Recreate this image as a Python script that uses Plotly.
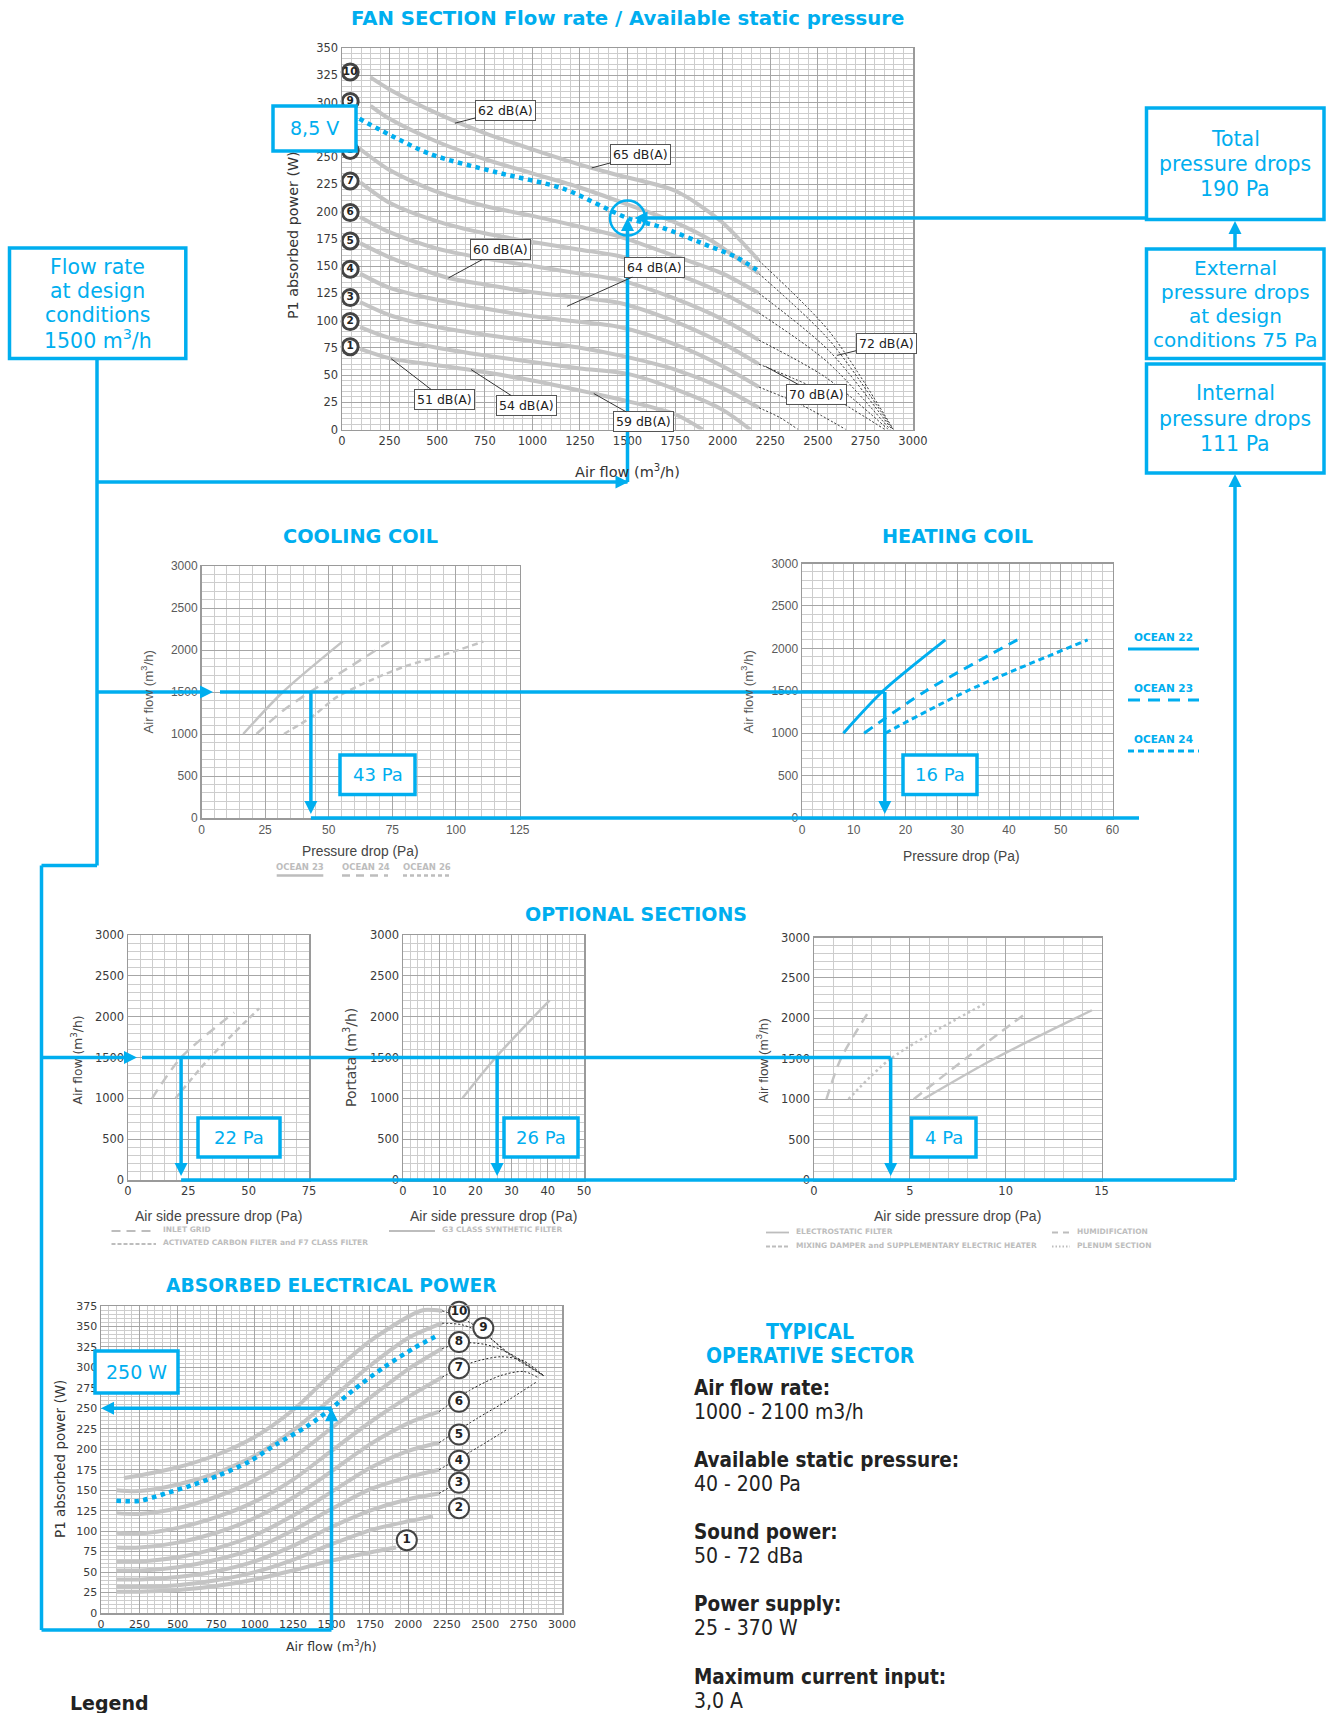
import plotly.graph_objects as go

W, H = 1330, 1713
BLUE = "#00AEEF"
CURVE = "#c4c4c4"
INK = "#333333"
GMAJ = "#a6a6a6"
GMIN = "#cdcdcd"
BORDER = "#9a9a9a"
FONT = "DejaVu Sans"
HELV = "Liberation Sans"
COND = "DejaVu Sans Condensed"

# ---------------------------------------------------------------- data
# FAN SECTION: available static pressure (Pa) vs air flow (m3/h), speeds 1..10
fan_speed_labels = ["1", "2", "3", "4", "5", "6", "7", "8", "9", "10"]
fan_speed_label_pa = [76, 99, 121, 147, 173, 199, 228, 256, 301, 328]
fan_speed_label_flow = [43] * 10
fan_flow = [
    [95, 258, 500, 678, 1000, 1323, 1500, 1750, 1894],
    [95, 250, 500, 750, 1000, 1250, 1500, 1750, 2000, 2145],
    [95, 250, 500, 750, 1000, 1250, 1459, 1750, 2000, 2190],
    [95, 250, 500, 750, 1000, 1182, 1459, 1750, 2000, 2190],
    [95, 250, 559, 750, 1000, 1250, 1459, 1750, 2000, 2190],
    [95, 250, 500, 750, 1000, 1250, 1459, 1750, 2000, 2190],
    [95, 250, 500, 750, 1000, 1250, 1459, 1750, 2000, 2190],
    [90, 250, 500, 750, 1000, 1250, 1459, 1750, 2000, 2190],
    [150, 250, 500, 750, 1000, 1250, 1459, 1750, 1933, 2190],
    [150, 250, 500, 750, 1000, 1250, 1459, 1750, 1985, 2190],
]
fan_pressure = [
    [74, 65, 59, 54.5, 45, 33, 26, 14, 0],
    [94, 84, 75, 68, 62, 56, 51, 37, 18, 0],
    [117, 105, 94, 87, 81, 75, 68, 55, 38, 20],
    [143, 130, 119, 111, 104, 100, 94, 78, 58, 39],
    [171, 158, 139, 133, 126, 121, 116, 99, 79, 60],
    [195, 181, 166, 157, 150, 143, 137, 120, 101, 82],
    [227, 208, 191, 180, 172, 165, 159, 143, 125, 107],
    [258, 238, 218, 205, 196, 186, 177, 159, 143, 125],
    [297, 285, 264, 248, 235, 222, 209, 190, 174, 143],
    [323, 312, 290, 272, 257, 243, 233, 219, 192, 155],
]
# dotted extensions (speed 3..10) down to zero pressure
fan_ext_flow = [
    [2190, 2300, 2396],
    [2190, 2420, 2647],
    [2190, 2520, 2852],
    [2190, 2540, 2870],
    [2190, 2550, 2880],
    [2190, 2560, 2890],
    [2190, 2560, 2895],
    [2190, 2560, 2897],
]
fan_ext_pressure = [
    [20, 11, 0],
    [39, 22, 0],
    [60, 35, 0],
    [82, 48, 0],
    [107, 62, 0],
    [125, 72, 0],
    [143, 82, 0],
    [155, 90, 0],
]
fan_85v_flow = [92, 460, 811, 1162, 1500, 1670, 1933, 2073, 2200]
fan_85v_pressure = [285, 253, 236, 221, 194, 186, 168, 158, 144]
fan_db_labels = ["62 dB(A)", "65 dB(A)", "60 dB(A)", "64 dB(A)", "72 dB(A)",
                 "70 dB(A)", "51 dB(A)", "54 dB(A)", "59 dB(A)"]
fan_db_point_flow = [593, 1312, 559, 1182, 2601, 2224, 258, 678, 1323]
fan_db_point_pa = [281, 240, 139, 113, 68, 58, 65, 55, 33]
fan_db_box_flow = [860, 1570, 833, 1643, 2859, 2494, 536, 970, 1586]
fan_db_box_pa = [293, 252, 165, 149, 79, 32, 27.6, 22, 7]

# COOLING COIL: air flow (m3/h) vs pressure drop (Pa)
cool_ocean23_pa = [16.4, 32, 55.4]
cool_ocean23_flow = [1000, 1500, 2100]
cool_ocean24_pa = [21.6, 32, 42.6, 54.4, 73.8]
cool_ocean24_flow = [1000, 1277, 1500, 1724, 2100]
cool_ocean26_pa = [32.4, 44, 53, 67.6, 80.7, 93.8, 110.8]
cool_ocean26_flow = [1000, 1218, 1436, 1654, 1812, 1930, 2100]

# HEATING COIL
heat_ocean22_pa = [8, 15.7, 27.7]
heat_ocean22_flow = [1000, 1500, 2100]
heat_ocean23_pa = [12, 24, 41.6]
heat_ocean23_flow = [1000, 1500, 2100]
heat_ocean24_pa = [16.1, 32, 55.2]
heat_ocean24_flow = [1000, 1500, 2100]

# OPTIONAL SECTIONS
opt_inlet_pa = [10, 22, 44]
opt_inlet_flow = [1000, 1500, 2050]
opt_carbon_pa = [19.7, 34, 54.3]
opt_carbon_flow = [1000, 1500, 2100]
opt_g3_pa = [16.4, 25.6, 40.5]
opt_g3_flow = [1000, 1500, 2200]
opt_humid_pa = [0.65, 1.4, 2.9]
opt_humid_flow = [1000, 1500, 2100]
opt_plenum_pa = [1.8, 4.0, 8.9]
opt_plenum_flow = [1000, 1500, 2180]
opt_mixing_pa = [5.2, 7.9, 11.1]
opt_mixing_flow = [1000, 1500, 2070]
opt_electro_pa = [5.7, 9.4, 14.5]
opt_electro_flow = [1000, 1500, 2100]

# ABSORBED ELECTRICAL POWER: P1 (W) vs air flow (m3/h), speeds 1..10
pow_flow = [
    [100, 250, 500, 750, 1000, 1250, 1500, 1750, 1920],
    [100, 250, 500, 750, 1000, 1250, 1500, 1750, 2000, 2160],
    [100, 250, 500, 750, 1000, 1250, 1500, 1750, 2000, 2200],
    [100, 250, 500, 750, 1000, 1250, 1500, 1750, 2000, 2200],
    [100, 250, 500, 750, 1000, 1250, 1500, 1750, 2000, 2200],
    [100, 250, 500, 750, 1000, 1250, 1500, 1750, 2000, 2200],
    [100, 250, 500, 750, 1000, 1250, 1500, 1750, 2000, 2220],
    [100, 250, 500, 750, 1000, 1250, 1500, 1750, 2000, 2220],
    [100, 250, 500, 750, 1000, 1250, 1500, 1750, 2000, 2220],
    [150, 250, 500, 750, 1000, 1250, 1500, 1750, 2000, 2100, 2220],
]
pow_watt = [
    [26, 26, 28, 33, 41, 52, 64, 74, 80],
    [32, 32, 34, 40, 50, 65, 84, 101, 112, 118],
    [41, 41, 44, 51, 63, 82, 105, 125, 139, 146],
    [52, 52, 56, 65, 79, 101, 127, 151, 166, 175],
    [63, 63, 68, 79, 95, 119, 148, 177, 198, 208],
    [80, 80, 86, 98, 116, 141, 173, 206, 232, 246],
    [98, 97, 104, 117, 136, 163, 198, 233, 264, 288],
    [122, 121, 128, 142, 162, 190, 226, 263, 298, 323],
    [150, 149, 157, 171, 192, 223, 262, 302, 336, 354],
    [165, 168, 178, 193, 215, 248, 292, 332, 362, 370, 369],
]
pow_ext_flow = [
    [2200, 2300],
    [2200, 2450, 2640],
    [2200, 2450, 2650, 2840],
    [2200, 2400, 2600, 2750, 2840],
    [2220, 2400, 2600, 2750, 2880],
    [2220, 2350, 2500, 2650, 2880],
    [2220, 2350, 2500, 2650, 2880],
    [2220, 2330, 2480, 2640, 2880],
]
pow_ext_watt = [
    [146, 157],
    [175, 202, 224],
    [208, 238, 260, 283],
    [246, 272, 290, 295, 288],
    [288, 305, 313, 308, 290],
    [323, 330, 328, 318, 290],
    [354, 352, 340, 318, 290],
    [369, 362, 345, 318, 290],
]
pow_85v_flow = [100, 250, 420, 590, 765, 965, 1140, 1340, 1500, 1640, 1840, 2040, 2200]
pow_85v_watt = [137, 137, 146, 156, 168, 185, 206, 228, 250, 272, 300, 324, 340]
pow_label_flow = [1990, 2330, 2330, 2330, 2330, 2330, 2330, 2330, 2488, 2330]
pow_label_watt = [89, 128, 159, 186, 218, 258, 299, 331, 348, 368]

# design selection
design_flow = 1500
fan_design_point_pa = 194     # where the 8,5 V curve meets 1500 m3/h (190 Pa total)
cool_drop = 43
heat_drop = 16
optA_drop = 22
optB_drop = 26
optC_drop = 4
design_power = 250

# ---------------------------------------------------------------- panels (pixel boxes in window coords)
PANELS = {
    "fan":  dict(sx="", L=342, R=913, T=48, B=429.5, xr=(0, 3000), yr=(0, 350), xd=250, xm=50, yd=25, ym=5, tf=(FONT, 11.5, "#3a3a3a")),
    "cool": dict(sx="2", L=201.5, R=519.5, T=566, B=818, xr=(0, 125), yr=(0, 3000), xd=25, xm=5, yd=500, ym=100, tf=(HELV, 12, "#5a5a5a")),
    "heat": dict(sx="3", L=802, R=1112.5, T=563.5, B=818, xr=(0, 60), yr=(0, 3000), xd=10, xm=2, yd=500, ym=100, tf=(HELV, 12, "#5a5a5a")),
    "optA": dict(sx="4", L=128, R=309, T=935, B=1180, xr=(0, 75), yr=(0, 3000), xd=25, xm=5, yd=500, ym=100, tf=(FONT, 11.5, "#3a3a3a")),
    "optB": dict(sx="5", L=403, R=584, T=935, B=1180, xr=(0, 50), yr=(0, 3000), xd=10, xm=2, yd=500, ym=100, tf=(FONT, 11.5, "#3a3a3a")),
    "optC": dict(sx="6", L=814, R=1101.5, T=937.5, B=1180, xr=(0, 15), yr=(0, 3000), xd=5, xm=1, yd=500, ym=100, tf=(FONT, 11.5, "#3a3a3a")),
    "pow":  dict(sx="7", L=101, R=562, T=1306, B=1613, xr=(0, 3000), yr=(0, 375), xd=250, xm=50, yd=25, ym=5, tf=(FONT, 11, "#3a3a3a")),
}


def px(x):
    return x / W


def py(y):
    return 1 - y / H


def P(name, xv, yv):
    p = PANELS[name]
    X = p["L"] + (xv - p["xr"][0]) / (p["xr"][1] - p["xr"][0]) * (p["R"] - p["L"])
    Y = p["B"] - (yv - p["yr"][0]) / (p["yr"][1] - p["yr"][0]) * (p["B"] - p["T"])
    return X, Y


fig = go.Figure()
layout = dict(width=W, height=H, margin=dict(l=0, r=0, t=0, b=0, pad=0, autoexpand=False),
              paper_bgcolor="white", plot_bgcolor="white", showlegend=False,
              font=dict(family=FONT, color=INK))

for name, p in PANELS.items():
    s = p["sx"]
    fam, size, col = p["tf"]
    common = dict(showgrid=True, gridcolor=GMAJ, gridwidth=1, showline=True, linecolor=BORDER,
                  linewidth=1.5, mirror=True, ticks="", zeroline=False, fixedrange=True, automargin=False,
                  tickfont=dict(family=fam, size=size, color=col), tick0=0)
    layout["xaxis" + s] = dict(common, domain=[px(p["L"]), px(p["R"])], range=list(p["xr"]),
                               anchor="y" + s, dtick=p["xd"],
                               minor=dict(dtick=p["xm"], tick0=0, showgrid=True, gridcolor=GMIN, gridwidth=1))
    layout["yaxis" + s] = dict(common, domain=[py(p["B"]), py(p["T"])], range=list(p["yr"]),
                               anchor="x" + s, dtick=p["yd"],
                               minor=dict(dtick=p["ym"], tick0=0, showgrid=True, gridcolor=GMIN, gridwidth=1))


def ax(name):
    s = PANELS[name]["sx"]
    return dict(xaxis="x" + s, yaxis="y" + s)


def line(name, x, y, color=CURVE, width=4, dash=None, shape="spline"):
    fig.add_trace(go.Scatter(x=x, y=y, mode="lines", line=dict(color=color, width=width, dash=dash, shape=shape, smoothing=0.8),
                             hoverinfo="skip", **ax(name)))


# ---- fan section curves
for fx_, fp in zip(fan_flow, fan_pressure):
    line("fan", fx_, fp, width=4)
for ex, ep in zip(fan_ext_flow, fan_ext_pressure):
    line("fan", ex, ep, color="#222222", width=1, dash="2px,2px")
line("fan", fan_85v_flow, fan_85v_pressure, color=BLUE, width=4.5, dash="dot")
fig.add_trace(go.Scatter(x=fan_speed_label_flow, y=fan_speed_label_pa, mode="markers+text", text=["<b>%s</b>" % t for t in fan_speed_labels],
                         textposition="middle center", textfont=dict(family=FONT, size=10.5, color="#222"),
                         marker=dict(size=16, color="white", line=dict(color="#444", width=3)), cliponaxis=False,
                         hoverinfo="skip", **ax("fan")))

# ---- cooling coil
line("cool", cool_ocean23_pa, cool_ocean23_flow, width=2.5)
line("cool", cool_ocean24_pa, cool_ocean24_flow, width=2.5, dash="10px,7px")
line("cool", cool_ocean26_pa, cool_ocean26_flow, width=2.5, dash="6px,4px")
# ---- heating coil
line("heat", heat_ocean22_pa, heat_ocean22_flow, color=BLUE, width=3)
line("heat", heat_ocean23_pa, heat_ocean23_flow, color=BLUE, width=3, dash="10px,7px")
line("heat", heat_ocean24_pa, heat_ocean24_flow, color=BLUE, width=3, dash="6px,4px")
# ---- optional sections
line("optA", opt_inlet_pa, opt_inlet_flow, width=2.5, dash="10px,7px")
line("optA", opt_carbon_pa, opt_carbon_flow, width=2.5, dash="6px,4px")
line("optB", opt_g3_pa, opt_g3_flow, width=2.5)
line("optC", opt_humid_pa, opt_humid_flow, width=2.5, dash="10px,7px")
line("optC", opt_plenum_pa, opt_plenum_flow, width=2.5, dash="2.5px,3px")
line("optC", opt_mixing_pa, opt_mixing_flow, width=2.5, dash="10px,6px")
line("optC", opt_electro_pa, opt_electro_flow, width=2.5)

# ---- absorbed power
for fx_, fw in zip(pow_flow, pow_watt):
    line("pow", fx_, fw, width=4)
for ex, ew in zip(pow_ext_flow, pow_ext_watt):
    line("pow", ex, ew, color="#222222", width=1, dash="2px,2px")
line("pow", pow_85v_flow, pow_85v_watt, color=BLUE, width=4.5, dash="dot")
fig.add_trace(go.Scatter(x=pow_label_flow, y=pow_label_watt, mode="markers+text", text=["<b>%s</b>" % t for t in fan_speed_labels],
                         textposition="middle center", textfont=dict(family=FONT, size=12, color="#222"),
                         marker=dict(size=20, color="white", line=dict(color="#444", width=2)), cliponaxis=False,
                         hoverinfo="skip", **ax("pow")))

# ---------------------------------------------------------------- annotations / shapes
ann = []
shapes = []


def txt(x, y, s, size, color=INK, family=FONT, xanchor="center", yanchor="middle", angle=0):
    ann.append(dict(x=px(x), y=py(y), xref="paper", yref="paper", text=s, showarrow=False, xanchor=xanchor,
                    yanchor=yanchor, textangle=angle, font=dict(family=family, size=size, color=color)))


def seg(x0, y0, x1, y1, color=BLUE, w=3.5, dash=None):
    shapes.append(dict(type="line", xref="paper", yref="paper", x0=px(x0), y0=py(y0), x1=px(x1), y1=py(y1),
                       line=dict(color=color, width=w, dash=dash)))


def head(x, y, d, L=13, Wd=13):
    if d == "right":
        pts = [(x, y), (x - L, y - Wd / 2), (x - L, y + Wd / 2)]
    elif d == "left":
        pts = [(x, y), (x + L, y - Wd / 2), (x + L, y + Wd / 2)]
    elif d == "up":
        pts = [(x, y), (x - Wd / 2, y + L), (x + Wd / 2, y + L)]
    else:
        pts = [(x, y), (x - Wd / 2, y - L), (x + Wd / 2, y - L)]
    path = "M " + " L ".join("%f,%f" % (px(a), py(b)) for a, b in pts) + " Z"
    shapes.append(dict(type="path", xref="paper", yref="paper", path=path, fillcolor=BLUE, line=dict(width=0)))


def box(x0, y0, x1, y1, lines, size=19, step=24):
    shapes.append(dict(type="rect", xref="paper", yref="paper", x0=px(x0), y0=py(y0), x1=px(x1), y1=py(y1),
                       fillcolor="white", line=dict(color=BLUE, width=3.5)))
    n = len(lines)
    cy = (y0 + y1) / 2
    for i, s in enumerate(lines):
        txt((x0 + x1) / 2, cy + (i - (n - 1) / 2) * step, s, size, color=BLUE)


# titles
txt(627, 19, "<b>FAN SECTION Flow rate / Available static pressure</b>", 19.7, BLUE)
txt(360.5, 537, "<b>COOLING COIL</b>", 19.3, BLUE)
txt(957, 537, "<b>HEATING COIL</b>", 19.2, BLUE)
txt(636, 914, "<b>OPTIONAL SECTIONS</b>", 19, BLUE)
txt(331, 1285, "<b>ABSORBED ELECTRICAL POWER</b>", 18.7, BLUE)

# axis titles
txt(293, 235, "P1 absorbed power (W)", 14.3, INK, angle=-90)
txt(627, 471, "Air flow (m<sup>3</sup>/h)", 14.5, INK)
txt(147.5, 692, "Air flow (m<sup>3</sup>/h)", 13.3, "#555", HELV, angle=-90)
txt(360, 851, "Pressure drop (Pa)", 13.8, "#444", HELV)
txt(747.5, 691, "Air flow (m<sup>3</sup>/h)", 13.3, "#555", HELV, angle=-90)
txt(962, 856, "Pressure drop (Pa)", 13.8, "#444", HELV)
txt(76.5, 1060, "Air flow (m<sup>3</sup>/h)", 12.3, "#444", FONT, angle=-90)
txt(218.6, 1216, "Air side pressure drop (Pa)", 14, "#444", HELV)
txt(350, 1058, "Portata (m<sup>3</sup>/h)", 14, "#444", FONT, angle=-90)
txt(493, 1216, "Air side pressure drop (Pa)", 14, "#444", HELV)
txt(762, 1060, "Air flow (m<sup>3</sup>/h)", 13.5, "#444", HELV, angle=-90)
txt(957, 1216, "Air side pressure drop (Pa)", 14, "#444", HELV)
txt(60, 1459, "P1 absorbed power (W)", 13.5, INK, angle=-90)
txt(331, 1646, "Air flow (m<sup>3</sup>/h)", 12.5, INK)

# small legends
LG = "#bdbdbd"
for cx, lab, x0, x1, dsh in [(300, "OCEAN 23", 276.7, 323.3, None), (366, "OCEAN 24", 342, 388, "8px,6px"),
                             (427, "OCEAN 26", 403, 451.7, "4px,3px")]:
    txt(cx, 867, "<b>%s</b>" % lab, 8.5, LG)
    seg(x0, 875.5, x1, 875.5, LG, 2.5, dsh)
for cy, lab, dsh in [(637, "OCEAN 22", None), (688, "OCEAN 23", "12px,8px"), (739, "OCEAN 24", "6px,4px")]:
    txt(1163, cy, "<b>%s</b>" % lab, 10.5, BLUE)
    seg(1128, cy + 12, 1199, cy + 12, BLUE, 3, dsh)
for (x0, x1, y, lab, dsh) in [(111.5, 156, 1231, "INLET GRID", "9px,6px"),
                              (111.5, 156, 1244, "ACTIVATED CARBON FILTER and F7 CLASS FILTER", "4px,2px"),
                              (389, 435, 1231, "G3 CLASS SYNTHETIC FILTER", None),
                              (766, 789, 1232.5, "ELECTROSTATIC FILTER", None),
                              (766, 789, 1246.5, "MIXING DAMPER and SUPPLEMENTARY ELECTRIC HEATER", "4px,2px"),
                              (1052, 1070, 1232.5, "HUMIDIFICATION", "6px,5px"),
                              (1052, 1070, 1246.5, "PLENUM SECTION", "1.5px,2px")]:
    seg(x0, y, x1, y, LG, 1.8, dsh)
    txt(x1 + 5, y - 1.5, "<b>%s</b>" % lab, 7.5, LG, xanchor="left")

# typical operative sector text
txt(810, 1332, "<b>TYPICAL</b>", 21, BLUE, COND)
txt(810, 1356, "<b>OPERATIVE SECTOR</b>", 21, BLUE, COND)
rows = [("Air flow rate:", "1000 - 2100 m3/h", 1388), ("Available static pressure:", "40 - 200 Pa", 1460),
        ("Sound power:", "50 - 72 dBa", 1532), ("Power supply:", "25 - 370 W", 1604),
        ("Maximum current input:", "3,0 A", 1676.5)]
for head_t, val, y in rows:
    txt(692, y, "<b>%s</b>" % head_t, 20.5, "#222", COND, xanchor="left")
    txt(692, y + 24, val, 21, "#222", COND, xanchor="left")
txt(68, 1703, "<b>Legend</b>", 19, "#222", FONT, xanchor="left")

# dB labels (leader lines)
for lab, fxp, fpp, bx, bp in zip(fan_db_labels, fan_db_point_flow, fan_db_point_pa, fan_db_box_flow, fan_db_box_pa):
    ann.append(dict(x=fxp, y=fpp, ax=bx, ay=bp, xref="x", yref="y", axref="x", ayref="y", text=lab,
                    showarrow=True, arrowhead=0, arrowwidth=1, arrowcolor="#333", bgcolor="white",
                    bordercolor="#555", borderwidth=1, borderpad=2,
                    font=dict(family=FONT, size=12.5, color="#222")))

# ---------------------------------------------------------------- flow path
dfx, dfy = P("fan", design_flow, fan_design_point_pa)
cool_y = P("cool", 0, design_flow)[1]
cool_x = P("cool", cool_drop, 0)[0]
heat_x = P("heat", heat_drop, 0)[0]
coil_base = P("cool", 0, 0)[1]
opt_y = P("optA", 0, design_flow)[1]
optA_x = P("optA", optA_drop, 0)[0]
optB_x = P("optB", optB_drop, 0)[0]
optC_x = P("optC", optC_drop, 0)[0]
opt_base = P("optA", 0, 0)[1]
pwx, pwy = P("pow", design_flow, design_power)
pow_left = PANELS["pow"]["L"]

LX, RX = 97, 1235
# design flow box to fan chart
seg(LX, 358.5, LX, 865.6)
seg(LX, 482, dfx, 482)
head(dfx + 1, 482, "right")
seg(dfx, 482, dfx, dfy + 10)
head(dfx, dfy, "up")
# cooling / heating
seg(LX, cool_y, 203, cool_y)
head(213, cool_y, "right")
seg(220, cool_y, heat_x, cool_y)
seg(cool_x, cool_y, cool_x, coil_base - 12)
head(cool_x, coil_base - 4, "down")
seg(heat_x, cool_y, heat_x, coil_base - 12)
head(heat_x, coil_base - 4, "down")
seg(cool_x, coil_base, 1139, coil_base)
# left rail
seg(LX, 865.6, 41.5, 865.6)
seg(41.5, 865.6, 41.5, 1630)
# optional sections
seg(41.5, opt_y, 128, opt_y)
head(137, opt_y, "right")
seg(142, opt_y, optC_x, opt_y)
for xx in (optA_x, optB_x, optC_x):
    seg(xx, opt_y, xx, opt_base - 12)
    head(xx, opt_base - 4, "down")
seg(optA_x, opt_base, RX, opt_base)
seg(RX, opt_base, RX, 482)
head(RX, 474, "up")
# power
seg(41.5, 1630, pwx, 1630)
seg(pwx, 1630, pwx, pwy + 10)
head(pwx, pwy, "up")
seg(pwx, pwy, pow_left + 10, pwy)
head(pow_left, pwy, "left")
# total pressure box
seg(1146.5, dfy, dfx + 16, dfy)
head(dfx + 7, dfy, "left")
seg(RX, 249, RX, 232)
head(RX, 221, "up")
shapes.append(dict(type="circle", xref="paper", yref="paper", x0=px(dfx - 17.5), x1=px(dfx + 17.5),
                   y0=py(dfy + 17.5), y1=py(dfy - 17.5), line=dict(color=BLUE, width=2.5)))

# boxes
box(9.5, 248, 185.8, 358.5, ["Flow rate", "at design", "conditions", "1500 m<sup>3</sup>/h"], 20.5, 24)
box(273, 106, 356, 151, ["8,5 V"], 19)
box(1146.5, 108, 1324, 219.5, ["Total", "pressure drops", "190 Pa"], 20.5, 25)
box(1146.5, 249, 1324, 358.5, ["External", "pressure drops", "at design", "conditions 75 Pa"], 20, 24)
box(1146.5, 364, 1324, 473, ["Internal", "pressure drops", "111 Pa"], 20.5, 25.5)
box(340, 755, 415, 794.5, ["43 Pa"], 18)
box(903, 755, 977, 794.5, ["16 Pa"], 18)
box(198, 1118, 280, 1157, ["22 Pa"], 18)
box(504, 1118, 578, 1157, ["26 Pa"], 18)
box(911.5, 1118, 976, 1157, ["4 Pa"], 18)
box(95, 1351, 178, 1393, ["250 W"], 19)

layout["annotations"] = ann
layout["shapes"] = shapes
fig.update_layout(**layout)
fig.write_html("out.html", config={"displayModeBar": False, "staticPlot": True},
               post_script="document.body.style.margin='0';")
